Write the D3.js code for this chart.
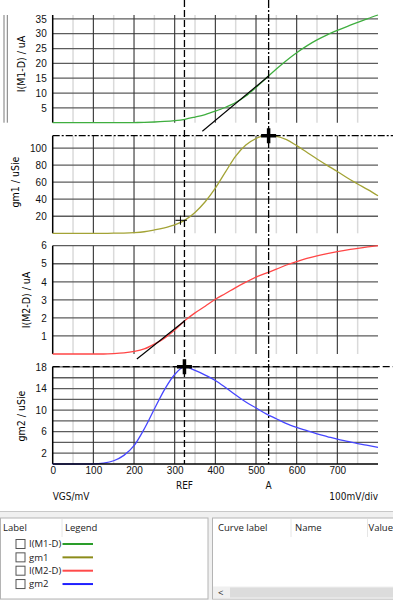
<!DOCTYPE html>
<html>
<head>
<meta charset="utf-8">
<script src="https://cdn.jsdelivr.net/npm/d3@7"></script>
<style>
  body { margin: 0; background: #fff; }
  svg { display: block; font-family: "DejaVu Sans Condensed", "DejaVu Sans", sans-serif; }
  .ui text { font-family: "Open Sans", "Noto Sans", sans-serif; font-size: 9.5px; fill: #222; }
</style>
</head>
<body>
<div id="chart"></div>
<script>
var width = 393,
  height = 600;

// gate voltage sweep, mV
var vgs = [0, 25, 50, 75, 100, 125, 150, 175, 200, 225, 250, 275, 300, 325, 350, 375, 400,
  425, 450, 475, 500, 525, 550, 575, 600, 625, 650, 675, 700, 725, 750, 775, 800];

// drain current of M1, uA
var idM1 = [0, 0, 0, 0, 0, 0, 0, 0.02, 0.05, 0.12, 0.24, 0.42, 0.7, 1.15, 1.9, 2.75, 3.9,
  5.2, 6.8, 9.0, 11.9, 15.0, 18.1, 21.0, 23.6, 25.9, 27.9, 29.6, 31.1, 32.5, 33.8, 35.1, 36.3];

// transconductance of M1, uSie
var gm1 = [0, 0, 0, 0, 0, 0, 0.1, 0.3, 0.8, 1.8, 3.9, 6.5, 9.8, 15.5, 24.5, 37, 53,
  72, 90.5, 103.5, 111.2, 114.5, 113.7, 109.8, 102.8, 95, 87.2, 79.7, 72.5, 64.8, 57.9, 51.2, 44];

// drain current of M2, uA
var idM2 = [0, 0, 0, 0, 0, 0, 0.02, 0.06, 0.14, 0.28, 0.55, 0.88, 1.33, 1.85, 2.28, 2.65, 3.03,
  3.35, 3.68, 3.98, 4.26, 4.48, 4.7, 4.93, 5.12, 5.3, 5.44, 5.56, 5.67, 5.77, 5.85, 5.93, 6.0];

// transconductance of M2, uSie
var gm2 = [0, 0, 0, 0, 0, 0.15, 0.6, 1.6, 3.4, 6.5, 10.2, 13.8, 16.6, 18.05, 17.35, 16.5, 15.5,
  14.2, 12.8, 11.5, 10.4, 9.3, 8.4, 7.5, 6.8, 6.2, 5.6, 5.1, 4.6, 4.2, 3.8, 3.45, 3.1];

var xTickLabels = [0, 100, 200, 300, 400, 500, 600, 700];
var ticksM1 = [5, 10, 15, 20, 25, 30, 35];
var ticksGm1 = [20, 40, 60, 80, 100];
var ticksM2 = [1, 2, 3, 4, 5, 6];
var ticksGm2 = [2, 6, 10, 14, 18];
var gridGm2 = [2, 4, 6, 8, 10, 12, 14, 16, 18];

// cursors placed on the sweep, mV
var cursorNames = ["REF", "A"];
var cursorVgs = [324, 531];

var legendLabels = ["I(M1-D)", "gm1", "I(M2-D)", "gm2"];
var legendColors = ["#2a9d2a", "#8c8c1a", "#ff4a4a", "#2020ff"];

var svg = d3
  .select("#chart")
  .append("svg")
  .attr("width", width)
  .attr("height", height);

var x = d3.scaleLinear().domain([0, 800]).range([52.7, 378]);

//one entry per stacked plot
var panels = [
  { title: "I(M1-D) / uA", values: idM1, ticks: ticksM1, grid: ticksM1, color: "#3fae3f", top: 15, bottom: 122.7, titleY: 64 },
  { title: "gm1 / uSie", values: gm1, ticks: ticksGm1, grid: ticksGm1, color: "#a3a335", top: 135.7, bottom: 233.3, titleY: 182 },
  { title: "I(M2-D) / uA", values: idM2, ticks: ticksM2, grid: ticksM2, color: "#ff4646", top: 245.7, bottom: 354, titleY: 300 },
  { title: "gm2 / uSie", values: gm2, ticks: ticksGm2, grid: gridGm2, color: "#4646ff", top: 366.7, bottom: 464, titleY: 416 }
];

panels.forEach(function(p) {
  p.y = d3.scaleLinear().domain([0, d3.max(p.values)]).range([p.bottom, p.top]);
});

//linear read of a series at some vgs
function valueAt(values, v) {
  var i = d3.bisectRight(vgs, v) - 1;
  i = Math.max(0, Math.min(vgs.length - 2, i));
  var t = (v - vgs[i]) / (vgs[i + 1] - vgs[i]);
  return values[i] + t * (values[i + 1] - values[i]);
}

var minorX = d3.range(50, 800, 100);
var majorX = d3.range(100, 800, 100);

panels.forEach(function(p, k) {
  var g = svg.append("g");

  g.selectAll(".minor")
    .data(minorX)
    .enter()
    .append("line")
    .attr("x1", x).attr("x2", x)
    .attr("y1", p.top).attr("y2", p.bottom)
    .attr("stroke", "#dadada")
    .attr("stroke-width", 1.5);

  g.selectAll(".hgrid")
    .data(p.grid)
    .enter()
    .append("line")
    .attr("x1", x(0)).attr("x2", x(800))
    .attr("y1", p.y).attr("y2", p.y)
    .attr("stroke", "#5c5c5c")
    .attr("stroke-width", 1.3);

  g.selectAll(".major")
    .data(majorX)
    .enter()
    .append("line")
    .attr("x1", x).attr("x2", x)
    .attr("y1", p.top).attr("y2", p.bottom)
    .attr("stroke", "#333")
    .attr("stroke-width", 1.1);

  //left axis line
  g.append("line")
    .attr("x1", x(0)).attr("x2", x(0))
    .attr("y1", p.top).attr("y2", p.bottom)
    .attr("stroke", "#000")
    .attr("stroke-width", 1.5);

  var axis = g.append("g")
    .attr("transform", "translate(" + x(0) + ",0)")
    .call(d3.axisLeft(p.y).tickValues(p.ticks).tickFormat(d3.format("d")).tickSize(0).tickPadding(6));
  axis.select(".domain").remove();
  axis.selectAll("text").attr("font-size", "10px").attr("fill", "#111").attr("font-family", null);

  var labelLeft = d3.min(axis.selectAll("text").nodes(), function(n) { return n.getBBox().x; });
  g.append("text")
    .attr("transform", "translate(" + (x(0) + labelLeft - 15) + "," + p.titleY + ") rotate(-90)")
    .attr("text-anchor", "middle")
    .attr("dominant-baseline", "central")
    .attr("font-size", "10.5px")
    .attr("fill", "#000")
    .text(p.title);

  var line = d3.line()
    .x(function(d, i) { return x(vgs[i]); })
    .y(function(d) { return p.y(d); })
    .curve(d3.curveMonotoneX);

  g.append("path")
    .attr("d", line(p.values))
    .attr("fill", "none")
    .attr("stroke", p.color)
    .attr("stroke-width", 1.3);
});

//x axis under the last plot
var last = panels[3];
svg.append("line")
  .attr("x1", x(0)).attr("x2", x(800))
  .attr("y1", last.bottom).attr("y2", last.bottom)
  .attr("stroke", "#000")
  .attr("stroke-width", 1.5);

var xAxis = svg.append("g")
  .attr("transform", "translate(0," + last.bottom + ")")
  .call(d3.axisBottom(x).tickValues(xTickLabels).tickSize(0).tickPadding(3));
xAxis.select(".domain").remove();
xAxis.selectAll("text").attr("font-size", "10px").attr("fill", "#111").attr("font-family", null);

svg.append("text").attr("x", x(0)).attr("y", 500).attr("font-size", "10px").attr("fill", "#111").text("VGS/mV");
svg.append("text").attr("x", x(800)).attr("y", 500).attr("text-anchor", "end").attr("font-size", "10px").attr("fill", "#111").text("100mV/div");

//selection marks left of the first plot
[4, 7.3].forEach(function(px) {
  svg.append("line")
    .attr("x1", px).attr("x2", px)
    .attr("y1", panels[0].top).attr("y2", panels[0].bottom)
    .attr("stroke", "#7a7a7a")
    .attr("stroke-width", 1);
});

//peak lines on the gm plots
var peakDash = ["7,2,2,2", "7,3"];
[panels[1], panels[3]].forEach(function(p, i) {
  var py = p.y(d3.max(p.values));
  svg.append("line")
    .attr("x1", x(0)).attr("x2", width)
    .attr("y1", py).attr("y2", py)
    .attr("stroke", "#000")
    .attr("stroke-width", 1.3)
    .attr("stroke-dasharray", peakDash[i]);
});

//cursor lines
var cursorDash = ["7,3", "8,2,2,2"];
cursorVgs.forEach(function(v, i) {
  svg.append("line")
    .attr("x1", x(v)).attr("x2", x(v))
    .attr("y1", 0).attr("y2", last.bottom)
    .attr("stroke", "#000")
    .attr("stroke-width", 1.3)
    .attr("stroke-dasharray", cursorDash[i]);
  svg.append("text")
    .attr("x", x(v)).attr("y", 488.5)
    .attr("text-anchor", "middle")
    .attr("font-size", "10px")
    .attr("fill", "#111")
    .text(cursorNames[i]);
});

//tangents: I(M1-D) at A using gm1, I(M2-D) at REF using gm2
var tangents = [
  { panel: panels[0], slopeFrom: gm1, at: cursorVgs[1], from: 368 },
  { panel: panels[2], slopeFrom: gm2, at: cursorVgs[0], from: 207 }
];
tangents.forEach(function(t) {
  var v0 = valueAt(t.panel.values, t.at);
  var slope = valueAt(t.slopeFrom, t.at) / 1000;
  svg.append("line")
    .attr("x1", x(t.from)).attr("y1", t.panel.y(v0 - slope * (t.at - t.from)))
    .attr("x2", x(t.at)).attr("y2", t.panel.y(v0))
    .attr("stroke", "#000")
    .attr("stroke-width", 1.1);
});

//big cross markers at the peaks
function bigCross(cx, cy) {
  var s = 7.5;
  svg.append("path")
    .attr("d", "M" + (cx - s) + "," + cy + "H" + (cx + s) + "M" + cx + "," + (cy - s) + "V" + (cy + s))
    .attr("stroke", "#000")
    .attr("stroke-width", 3.5);
}
bigCross(x(cursorVgs[1]), panels[1].y(d3.max(gm1)));
bigCross(x(cursorVgs[0]), panels[3].y(d3.max(gm2)));

//thin cross on gm1 at REF
var refGm1 = panels[1].y(valueAt(gm1, cursorVgs[0]));
svg.append("path")
  .attr("d", "M" + (x(cursorVgs[0]) - 9) + "," + refGm1 + "H" + (x(cursorVgs[0]) + 2.5) +
    "M" + (x(cursorVgs[0]) - 4) + "," + (refGm1 - 4.5) + "V" + (refGm1 + 4.5))
  .attr("stroke", "#000")
  .attr("stroke-width", 1);

//legend and cursor table
var ui = svg.append("g").attr("class", "ui");
ui.append("rect").attr("x", 0).attr("y", 511).attr("width", width).attr("height", 89).attr("fill", "#f0f0f0");
ui.append("line").attr("x1", 0).attr("x2", width).attr("y1", 511.5).attr("y2", 511.5).attr("stroke", "#c8c8c8");
ui.append("rect").attr("x", 0.5).attr("y", 518).attr("width", 207.5).attr("height", 81).attr("fill", "#fff").attr("stroke", "#b4b4b4");
ui.append("rect").attr("x", 212.5).attr("y", 518).attr("width", 181).attr("height", 81).attr("fill", "#fff").attr("stroke", "#b4b4b4");

ui.append("text").attr("x", 3).attr("y", 531).text("Label");
ui.append("line").attr("x1", 62).attr("x2", 62).attr("y1", 519).attr("y2", 537).attr("stroke", "#e6e6e6");
ui.append("text").attr("x", 65).attr("y", 531).text("Legend");

legendLabels.forEach(function(name, i) {
  var cy = 544 + i * 13.35;
  ui.append("rect")
    .attr("x", 16).attr("y", cy - 4.5)
    .attr("width", 9).attr("height", 9)
    .attr("fill", "#fff")
    .attr("stroke", "#555");
  ui.append("text").attr("x", 29).attr("y", cy + 3.3).text(name);
  ui.append("line")
    .attr("x1", 62.5).attr("x2", 93)
    .attr("y1", cy).attr("y2", cy)
    .attr("stroke", legendColors[i])
    .attr("stroke-width", 2);
});

ui.append("text").attr("x", 218).attr("y", 531).text("Curve label");
ui.append("line").attr("x1", 291).attr("x2", 291).attr("y1", 519).attr("y2", 537).attr("stroke", "#e6e6e6");
ui.append("text").attr("x", 295).attr("y", 531).text("Name");
ui.append("line").attr("x1", 367.5).attr("x2", 367.5).attr("y1", 519).attr("y2", 537).attr("stroke", "#e6e6e6");
ui.append("text").attr("x", 368.5).attr("y", 531).attr("font-size", "9px").text("Value");

//horizontal scrollbar
ui.append("rect").attr("x", 213).attr("y", 586.5).attr("width", 180).attr("height", 12).attr("fill", "#f0f0f0");
ui.append("rect").attr("x", 230).attr("y", 587.5).attr("width", 163).attr("height", 10).attr("fill", "#dcdcdc");
ui.append("text").attr("x", 218).attr("y", 595.5).attr("font-size", "8px").text("<");
</script>
</body>
</html>
